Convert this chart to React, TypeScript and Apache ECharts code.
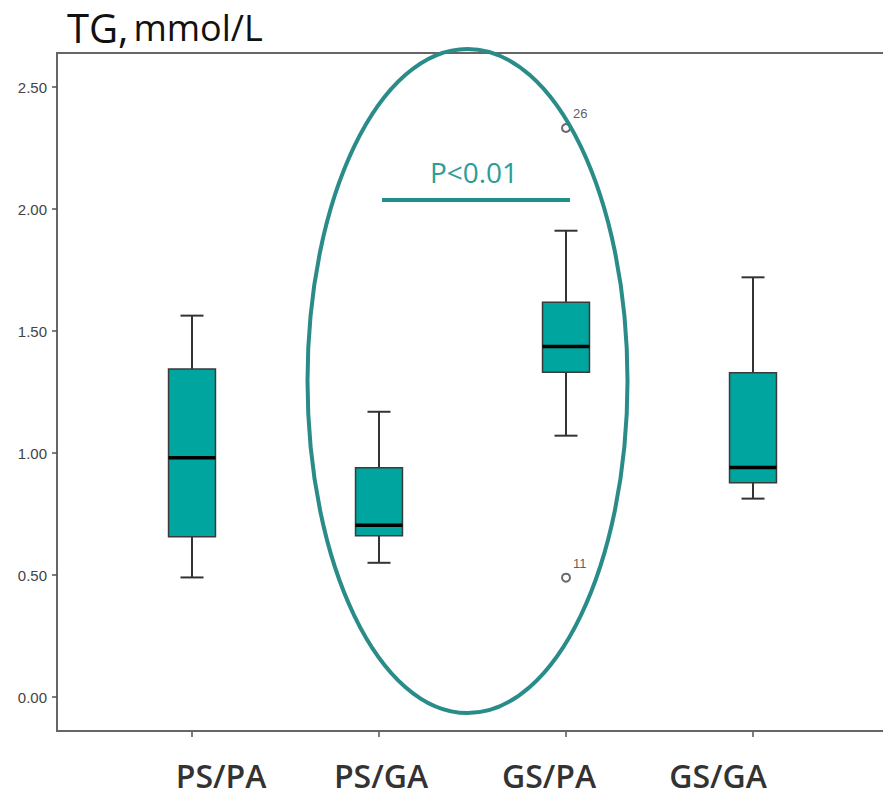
import React, { useEffect, useRef } from "react";
import * as echarts from "echarts";

const categories = ["PS/PA", "PS/GA", "GS/PA", "GS/GA"];
const lowWhisker = [0.49, 0.55, 1.071, 0.813];
const q1 = [0.657, 0.661, 1.331, 0.878];
const median = [0.981, 0.704, 1.436, 0.941];
const q3 = [1.344, 0.94, 1.618, 1.329];
const highWhisker = [1.563, 1.169, 1.911, 1.72];
const outlierCategory = [2, 2];
const outlierValues = [2.332, 0.489];
const outlierLabels = ["26", "11"];
const yTicks = [0, 0.5, 1, 1.5, 2, 2.5];
const labelShift = [58, 4, -34, -70];

export default function App() {
  const ref = useRef<HTMLDivElement>(null);
  useEffect(() => {
    if (!ref.current) return;
    const chart = echarts.init(ref.current, null, { renderer: "svg" });
    const boxData = categories.map((_, i) => [i, lowWhisker[i], q1[i], median[i], q3[i], highWhisker[i]]);
    const outData = outlierValues.map((v, i) => ({ value: [outlierCategory[i], v], name: outlierLabels[i] }));
    const rich: any = {};
    labelShift.forEach((s, i) => {
      rich["l" + i] = {
        fontSize: 32,
        fontWeight: 600,
        fontFamily: "Open Sans",
        color: "#333",
        lineHeight: 34,
        padding: s >= 0 ? [0, 0, 0, s] : [0, -s, 0, 0],
      };
    });
    const teal = "#2A8C88";
    chart.setOption({
      animation: false,
      backgroundColor: "#fff",
      title: {
        text: "{a|TG,} {b|mmol/L}",
        left: 67,
        top: 4,
        padding: 0,
        textStyle: {
          fontWeight: "normal",
          rich: {
            a: { fontSize: 40, fontFamily: "Open Sans", color: "#111", fontWeight: "normal", lineHeight: 46 },
            b: { fontSize: 36, fontFamily: "Open Sans", color: "#111", fontWeight: "normal", lineHeight: 46 },
          },
        },
      },
      grid: { left: 98.5, right: 36.5, top: 53, bottom: 64 },
      xAxis: {
        type: "category",
        data: categories,
        boundaryGap: true,
        axisLine: { show: false, onZero: false },
        axisTick: { show: true, alignWithLabel: true, length: 6, lineStyle: { color: "#555", width: 1.5 } },
        axisLabel: {
          margin: 27,
          formatter: (v: string, i: number) => `{l${i}|${v}}`,
          rich,
        },
        splitLine: { show: false },
      },
      yAxis: {
        type: "value",
        min: (697 - 731) / 244,
        max: (697 - 53) / 244,
        offset: 41.5,
        splitLine: { show: false },
        axisLine: { show: true, lineStyle: { color: "#666", width: 2 } },
        axisTick: { show: true, length: 5, customValues: yTicks, lineStyle: { color: "#555", width: 1.5 } },
        axisLabel: {
          customValues: yTicks,
          margin: 10,
          formatter: (v: number) => v.toFixed(2),
          fontSize: 15,
          fontFamily: "Liberation Sans",
          color: "#444",
        },
      },
      graphic: [
        { type: "line", shape: { x1: 56, y1: 53, x2: 883, y2: 53 }, style: { stroke: "#666", lineWidth: 2 }, z: 1 },
        { type: "line", shape: { x1: 56, y1: 731, x2: 883, y2: 731 }, style: { stroke: "#666", lineWidth: 2 }, z: 1 },
        {
          type: "ellipse",
          shape: { cx: 467.5, cy: 381, rx: 160, ry: 332 },
          style: { fill: "none", stroke: teal, lineWidth: 4 },
          z: 10,
        },
        { type: "line", shape: { x1: 382, y1: 200, x2: 570, y2: 200 }, style: { stroke: "#1F8F8A", lineWidth: 4 }, z: 10 },
        {
          type: "text",
          x: 474,
          y: 186,
          style: {
            text: "P<0.01",
            fontSize: 28,
            fontFamily: "Open Sans",
            fill: "#2E9C96",
            align: "center",
            verticalAlign: "bottom",
          },
          z: 10,
        },
      ],
      series: [
        {
          type: "custom",
          data: boxData,
          encode: { x: 0, y: [1, 2, 3, 4, 5] },
          renderItem: (params: any, api: any) => {
            const x = api.value(0);
            const lo = api.coord([x, api.value(1)]);
            const b1 = api.coord([x, api.value(2)]);
            const md = api.coord([x, api.value(3)]);
            const b3 = api.coord([x, api.value(4)]);
            const hi = api.coord([x, api.value(5)]);
            const band = api.size([1, 0])[0];
            const bw = band * 0.251;
            const cw = band * 0.123;
            const cx = lo[0];
            const ls = { stroke: "#333", lineWidth: 2 };
            return {
              type: "group",
              children: [
                { type: "line", shape: { x1: cx, y1: lo[1], x2: cx, y2: b1[1] }, style: ls },
                { type: "line", shape: { x1: cx, y1: hi[1], x2: cx, y2: b3[1] }, style: ls },
                { type: "line", shape: { x1: cx - cw / 2, y1: lo[1], x2: cx + cw / 2, y2: lo[1] }, style: ls },
                { type: "line", shape: { x1: cx - cw / 2, y1: hi[1], x2: cx + cw / 2, y2: hi[1] }, style: ls },
                {
                  type: "rect",
                  shape: { x: cx - bw / 2, y: b3[1], width: bw, height: b1[1] - b3[1] },
                  style: { fill: "#00A59F", stroke: "#3a3a3a", lineWidth: 1.5 },
                },
                {
                  type: "line",
                  shape: { x1: cx - bw / 2, y1: md[1], x2: cx + bw / 2, y2: md[1] },
                  style: { stroke: "#000", lineWidth: 3.5 },
                },
              ],
            };
          },
        },
        {
          type: "scatter",
          data: outData,
          symbol: "emptyCircle",
          symbolSize: 8,
          itemStyle: { color: "#444", borderWidth: 1.3 },
          label: {
            show: true,
            position: "right",
            distance: 2,
            offset: [0, -14],
            formatter: (p: any) => p.name,
            fontSize: 13,
            fontFamily: "Liberation Sans",
            color: "#333",
          },
        },
      ],
    });
    return () => chart.dispose();
  }, []);
  return <div ref={ref} style={{ position: "fixed", left: 0, top: 0, width: 883, height: 795 }} />;
}
